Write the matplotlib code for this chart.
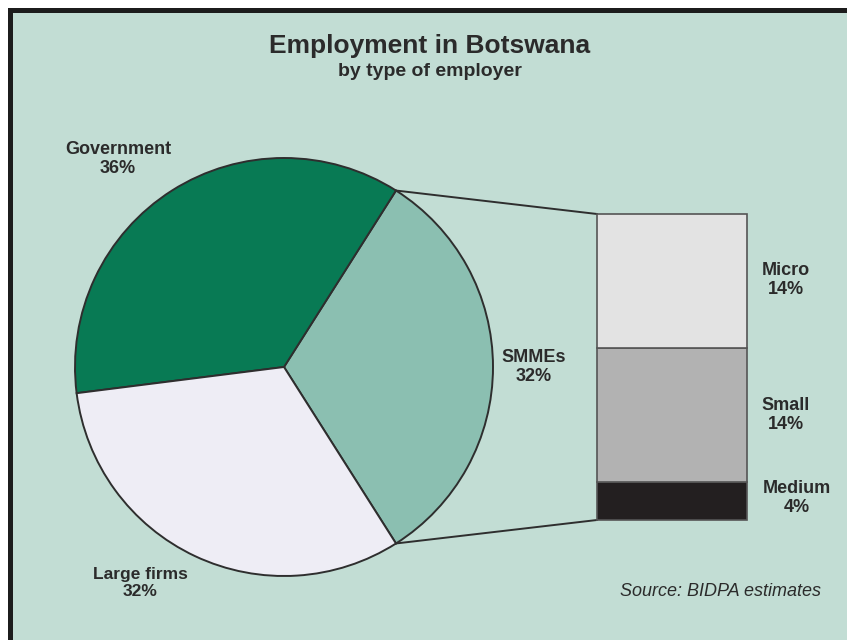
import numpy as np
import matplotlib.pyplot as plt
from matplotlib.patches import Rectangle

# data
pie_labels = ['SMMEs', 'Government', 'Large firms']
pie_values = [32, 36, 32]
pie_colors = ['#8bbfb1', '#087a54', '#eeedf5']

bar_labels = ['Medium', 'Small', 'Micro']
bar_values = [4, 14, 14]
bar_colors = ['#231f20', '#b2b2b2', '#e3e3e3']

bg = '#c2ddd4'
txt = '#2b2b2b'
W, H = 847, 640
fam = ['Liberation Sans', 'DejaVu Sans']

fig = plt.figure(figsize=(W / 100, H / 100), dpi=100, facecolor='white')
ax = fig.add_axes([0, 0, 1, 1])

# frame (picture is cropped at right and bottom)
ax.add_patch(Rectangle((10, -20), 900, 650, facecolor=bg, edgecolor='#1c1c1c', lw=3.6, zorder=0))

# pie
cx, cy, r = 284, 273, 209
start = -pie_values[0] / 100 * 360 / 2
wedges, _ = ax.pie(pie_values, colors=pie_colors, startangle=start, counterclock=True,
                   center=(cx, cy), radius=r, frame=True,
                   wedgeprops=dict(edgecolor='#2e2e2e', linewidth=1.4))
ax.set_xlim(0, W)
ax.set_ylim(0, H)
ax.set_aspect('equal')
ax.axis('off')

# stacked bar for SMMEs breakdown
bx, bw = 672, 150
bar_bottom = 120
scale = 306 / sum(bar_values)
bot = bar_bottom
for v, c in zip(bar_values, bar_colors):
    ax.bar(bx, v * scale, width=bw, bottom=bot, color=c, edgecolor='#555555', lw=1.2, zorder=3)
    bot += v * scale
bar_top = bot

# connector lines
a = np.deg2rad(start)
p_top = (cx + r * np.cos(-a), cy + r * np.sin(-a))
p_bot = (cx + r * np.cos(a), cy + r * np.sin(a))
ax.plot([p_top[0], bx - bw / 2], [p_top[1], bar_top], color='#2e2e2e', lw=1.4, zorder=2)
ax.plot([p_bot[0], bx - bw / 2], [p_bot[1], bar_bottom], color='#2e2e2e', lw=1.4, zorder=2)

# titles
ax.text(430, H - 46, 'Employment in Botswana', ha='center', va='center', fontsize=19,
        fontweight='bold', color=txt, family=fam)
ax.text(430, H - 72, 'by type of employer', ha='center', va='center', fontsize=14,
        fontweight='bold', color=txt, family=fam)

lab = dict(ha='center', va='center', fontsize=13, fontweight='bold', color=txt,
           family=fam, linespacing=1.2)
ax.text(118, H - 159, 'Government\n36%', **lab)
ax.text(534, H - 367, 'SMMEs\n32%', **lab)
ax.text(786, H - 280, 'Micro\n14%', **lab)
ax.text(786, H - 415, 'Small\n14%', **lab)
ax.text(797, H - 498, 'Medium\n4%', **lab)
ax.text(140, H - 583, 'Large firms\n32%', ha='center', va='center', fontsize=12.5,
        fontweight='bold', color=txt, family=fam, linespacing=1.2)

ax.text(720, H - 591, 'Source: BIDPA estimates', ha='center', va='center', fontsize=13,
        style='italic', color=txt, family=fam)

fig.savefig('out.png', dpi=100, facecolor='white')
